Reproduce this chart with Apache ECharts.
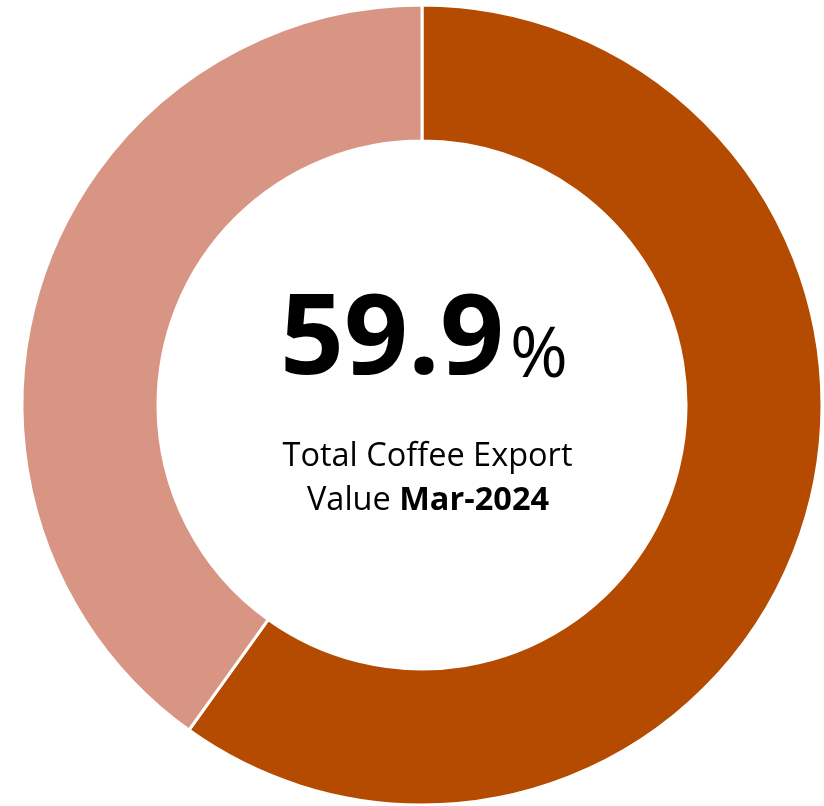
<!DOCTYPE html>
<html>
<head>
<meta charset="utf-8">
<script src="https://cdn.jsdelivr.net/npm/echarts@6/dist/echarts.min.js"></script>
<style>
  html, body { margin: 0; padding: 0; background: #ffffff; }
  #chart { width: 824px; height: 806px; }
</style>
</head>
<body>
<div id="chart"></div>
<script>
// Share of total coffee export value, March 2024
const categories = ['Share', 'Rest'];
const shareValues = [59.9, 40.1];
const sliceColors = ['#B54B00', '#D99584'];
const subtitleLine1 = 'Total Coffee Export';
const subtitleLabel = 'Value ';
const periodLabel = 'Mar-2024';

const chart = echarts.init(document.getElementById('chart'), null, { renderer: 'canvas' });
const FONT = '"Open Sans", Lato, sans-serif';
const cx = 422, cy = 405;

chart.setOption({
  animation: false,
  series: [{
    type: 'pie',
    center: [cx, cy],
    radius: [264, 400],
    startAngle: 90,
    clockwise: true,
    silent: true,
    label: { show: false },
    labelLine: { show: false },
    itemStyle: { borderColor: '#ffffff', borderWidth: 3 },
    data: categories.map((name, i) => ({
      name: name,
      value: shareValues[i],
      itemStyle: { color: sliceColors[i] }
    }))
  }],
  graphic: [
    {
      type: 'text',
      x: 424,
      y: 286,
      style: {
        text: '{num|' + shareValues[0].toFixed(1) + '}{pct|%}',
        fill: '#000000',
        align: 'center',
        verticalAlign: 'top',
        rich: {
          num: { fontFamily: FONT, fontWeight: 'bold', fontSize: 112, fill: '#000', verticalAlign: 'bottom', letterSpacing: -2 },
          pct: { fontFamily: FONT, fontSize: 70, fill: '#000', verticalAlign: 'bottom', padding: [0, 0, 6, 6] }
        }
      }
    },
    {
      type: 'text',
      x: 427.5,
      y: 440,
      style: {
        text: subtitleLine1,
        fill: '#000000',
        align: 'center',
        verticalAlign: 'top',
        fontFamily: FONT,
        fontSize: 32.5
      }
    },
    {
      type: 'text',
      x: 428,
      y: 484,
      style: {
        text: '{r|' + subtitleLabel + '}{b|' + periodLabel + '}',
        fill: '#000000',
        align: 'center',
        verticalAlign: 'top',
        rich: {
          r: { fontFamily: FONT, fontSize: 32.5, fill: '#000' },
          b: { fontFamily: FONT, fontSize: 32.5, fontWeight: 'bold', fill: '#000' }
        }
      }
    }
  ]
});
</script>
</body>
</html>
